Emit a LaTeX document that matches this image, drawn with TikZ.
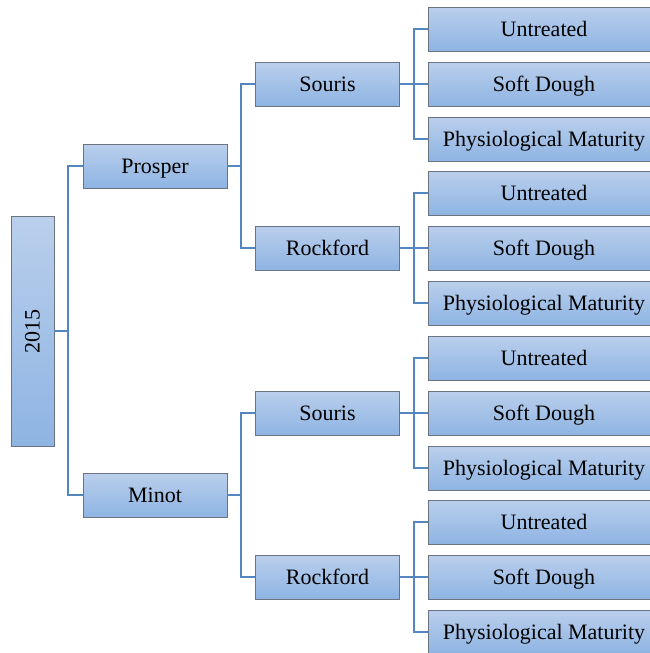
\documentclass[tikz,border=0pt]{standalone}
\usepackage{fontspec}
\setmainfont{Liberation Serif}
\newfontfamily\boxfont{Liberation Serif}
\definecolor{boxTop}{RGB}{186, 207, 236}
\definecolor{boxBottom}{RGB}{142, 180, 227}
\definecolor{boxBorder}{RGB}{108, 116, 128}
\definecolor{lineBlue}{RGB}{84, 134, 192}

\begin{document}
\begin{tikzpicture} [
        x=1pt, y=1pt,
        box/.style={draw=boxBorder, line width=0.8pt, top color=boxTop, bottom color=boxBottom,
            minimum height=44pt, inner sep=0pt, text height=18pt, text depth=4pt,
            font=\boxfont\fontsize{22}{26}\selectfont},
        site/.style={box, minimum width=144pt},
        leaf/.style={box, minimum width=232pt},
        link/.style={draw=lineBlue, line width=2pt}
    ]
        \useasboundingbox (0, 0) rectangle (650, -653);
        \clip (0, 0) rectangle (650, -653);

        % year
        \node [box, minimum width=43pt, minimum height=230pt, text height=, text depth=] (year) at (32.5, -331) {\rotatebox{90}{2015}};

        % sites
        \foreach \name/\txt/\y in {prosper/Prosper/166, minot/Minot/495} {
            \node [site] (\name) at (155, -\y) {\txt};
            \draw [link] (year.east) -- ++(14, 0) |- (\name.west);
        }

        % cultivars
        \foreach \p/\name/\txt/\y in {prosper/souA/Souris/84, prosper/rockA/Rockford/248,
                                      minot/souB/Souris/413, minot/rockB/Rockford/577} {
            \node [site] (\name) at (327.5, -\y) {\txt};
            \draw [link] (\p.east) -- ++(14, 0) |- (\name.west);
        }

        % treatments
        \foreach \c/\y in {souA/84, rockA/248, souB/413, rockB/577} {
            \foreach \t/\d [count=\i] in {Untreated/-55, Soft Dough/0, Physiological Maturity/55} {
                \node [leaf] (\c\i) at (544, {-(\y+\d)}) {\t};
                \draw [link] (\c.east) -- ++(14, 0) |- (\c\i.west);
            }
        }
    \end{tikzpicture}
\end{document}
